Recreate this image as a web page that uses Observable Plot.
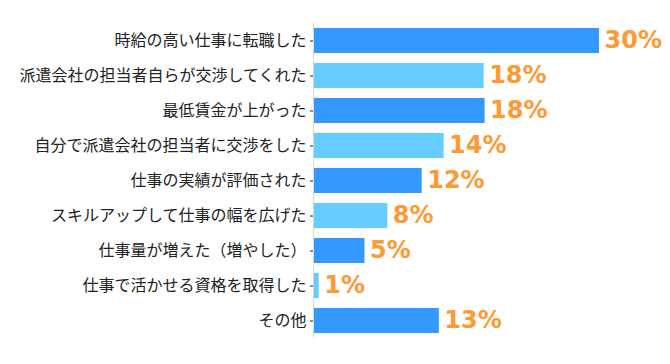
<!DOCTYPE html>
<html>
<head>
<meta charset="utf-8">
<script src="https://cdn.jsdelivr.net/npm/d3@7"></script>
<script src="https://cdn.jsdelivr.net/npm/@observablehq/plot@0.6"></script>
<style>
  html, body { margin: 0; padding: 0; background: #fff; }
</style>
</head>
<body>
<div id="chart"></div>
<script>
const categories = [
  "時給の高い仕事に転職した",
  "派遣会社の担当者自らが交渉してくれた",
  "最低賃金が上がった",
  "自分で派遣会社の担当者に交渉をした",
  "仕事の実績が評価された",
  "スキルアップして仕事の幅を広げた",
  "仕事量が増えた（増やした）",
  "仕事で活かせる資格を取得した",
  "その他"
];
const values = [30.0, 17.9, 18.0, 13.7, 11.4, 7.8, 5.4, 0.6, 13.2];
const valueLabels = ["30%", "18%", "18%", "14%", "12%", "8%", "5%", "1%", "13%"];

const data = categories.map((c, i) => ({
  category: c,
  value: values[i],
  label: valueLabels[i],
  shade: i % 2 === 0 ? "dark" : "light"
}));

const chart = Plot.plot({
  width: 670,
  height: 364,
  marginLeft: 313,
  marginRight: 71,
  marginTop: 22.5,
  marginBottom: 26.5,
  style: {
    fontFamily: "'Noto Sans CJK JP', 'Noto Sans', sans-serif",
    fontSize: "16px",
    color: "#222",
    background: "#fff"
  },
  x: { domain: [0, 30], axis: null },
  y: { domain: categories, paddingInner: 0.3, paddingOuter: 0.15, label: null },
  color: { domain: ["dark", "light"], range: ["#3399ff", "#66ccff"] },
  marks: [
    Plot.barX(data, { x: "value", y: "category", fill: "shade" }),
    Plot.ruleX([0], { stroke: "#d9d9d9" }),
    Plot.axisY({ tickSize: 3, tickPadding: 4, fontSize: 16, label: null, stroke: "#222" }),
    Plot.text(data, {
      x: "value", y: "category", text: "label",
      textAnchor: "start", dx: 5, dy: -1,
      fill: "#ff9933",
      fontSize: 24, fontWeight: "bold",
      fontFamily: "'DejaVu Sans', Verdana, sans-serif"
    })
  ]
});
document.getElementById("chart").appendChild(chart);
</script>
</body>
</html>
